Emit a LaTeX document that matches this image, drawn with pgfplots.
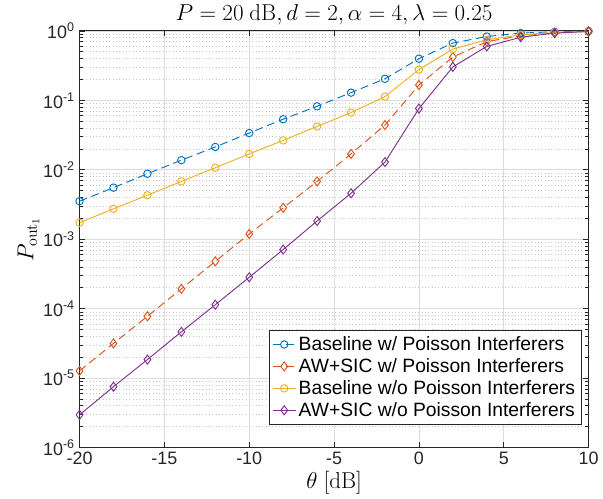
\documentclass[border=0pt]{standalone}
\usepackage[no-math]{fontspec}
\setmainfont{Liberation Sans}
\usepackage{pgfplots}
\pgfplotsset{compat=1.18}
\definecolor{mblue}{rgb}{0,0.447,0.741}
\definecolor{morange}{rgb}{0.85,0.325,0.098}
\definecolor{myellow}{rgb}{0.929,0.694,0.125}
\definecolor{mpurple}{rgb}{0.494,0.184,0.556}
\definecolor{axgray}{rgb}{0.15,0.15,0.15}
\begin{document}
\begin{tikzpicture}
\begin{axis}[
  width=383pt, height=313.5pt, scale only axis,
  ymode=log,
  xmin=-20, xmax=10, ymin=1e-6, ymax=1,
  xtick={-20,-15,-10,-5,0,5,10},
  xticklabels={-20,-15,-10,-5,0,5,10},
  ytick={1e-6,1e-5,1e-4,1e-3,1e-2,1e-1,1},
  yticklabels={10\textsuperscript{-6},10\textsuperscript{-5},10\textsuperscript{-4},10\textsuperscript{-3},10\textsuperscript{-2},10\textsuperscript{-1},10\textsuperscript{0}},
  tick label style={font=\fontsize{13.5}{15}\selectfont, text=axgray},
  /pgf/number format/assume math mode=true,
  tick align=inside, tick pos=both,
  major tick length=4pt, minor tick length=2.5pt,
  every tick/.style={axgray, line width=0.5pt},
  axis line style={axgray, line width=0.6pt},
  grid=both,
  xminorgrids=false,
  major grid style={line width=0.5pt, color=black!13},
  minor grid style={line width=0.5pt, color=black!22, dotted},
  title={$P = 20~\mathrm{dB}, d = 2, \alpha = 4, \lambda = 0.25$},
  title style={font=\fontsize{16}{18}\selectfont, yshift=-5pt},
  xlabel={$\theta~[\mathrm{dB}]$},
  ylabel={$P_{\mathrm{out}_1}$},
  label style={font=\fontsize{17}{19}\selectfont},
  xlabel style={yshift=2pt},
  ylabel style={yshift=-4pt},
  legend style={at={(0.986,0.055)}, anchor=south east, font=\fontsize{14.5}{17}\selectfont,
    draw=axgray, line width=0.6pt, inner sep=2.5pt, row sep=0.5pt, cells={anchor=west}},
  legend cell align=left,
  every axis plot/.append style={line width=0.7pt},
]
\addplot[mblue, dash pattern=on 6pt off 3.5pt, mark=o, mark size=2.8pt, mark options={solid}] coordinates {
(-20,3.53e-3) (-18,5.53e-3) (-16,8.77e-3) (-14,0.01374) (-12,0.0213) (-10,0.0338) (-8,0.0535) (-6,0.082) (-4,0.129) (-2,0.204) (0,0.398) (2,0.667) (4,0.83) (6,0.93) (8,0.97) (10,0.99)};
\addlegendentry{Baseline w/ Poisson Interferers}
\addplot[morange, dash pattern=on 6pt off 3.5pt, mark=diamond, mark size=3.4pt, mark options={solid}] coordinates {
(-20,1.27e-5) (-18,3.16e-5) (-16,7.77e-5) (-14,1.93e-4) (-12,4.8e-4) (-10,1.19e-3) (-8,2.83e-3) (-6,6.8e-3) (-4,0.0169) (-2,0.044) (0,0.166) (2,0.42) (4,0.70) (6,0.85) (8,0.93) (10,0.985)};
\addlegendentry{AW+SIC w/ Poisson Interferers}
\addplot[myellow, mark=o, mark size=2.8pt] coordinates {
(-20,1.73e-3) (-18,2.74e-3) (-16,4.3e-3) (-14,6.8e-3) (-12,0.0107) (-10,0.0169) (-8,0.0265) (-6,0.042) (-4,0.0667) (-2,0.113) (0,0.277) (2,0.547) (4,0.743) (6,0.877) (8,0.95) (10,0.98)};
\addlegendentry{Baseline w/o Poisson Interferers}
\addplot[mpurple, mark=diamond, mark size=3.4pt] coordinates {
(-20,2.96e-6) (-18,7.52e-6) (-16,1.85e-5) (-14,4.64e-5) (-12,1.14e-4) (-10,2.83e-4) (-8,7.1e-4) (-6,1.83e-3) (-4,4.59e-3) (-2,0.0129) (0,0.076) (2,0.303) (4,0.597) (6,0.81) (8,0.93) (10,0.98)};
\addlegendentry{AW+SIC w/o Poisson Interferers}
\end{axis}
\path (current bounding box.south west) ++(-10pt,0) coordinate (padleft);
\path (padleft) -- (current bounding box.north east);
\end{tikzpicture}
\end{document}
